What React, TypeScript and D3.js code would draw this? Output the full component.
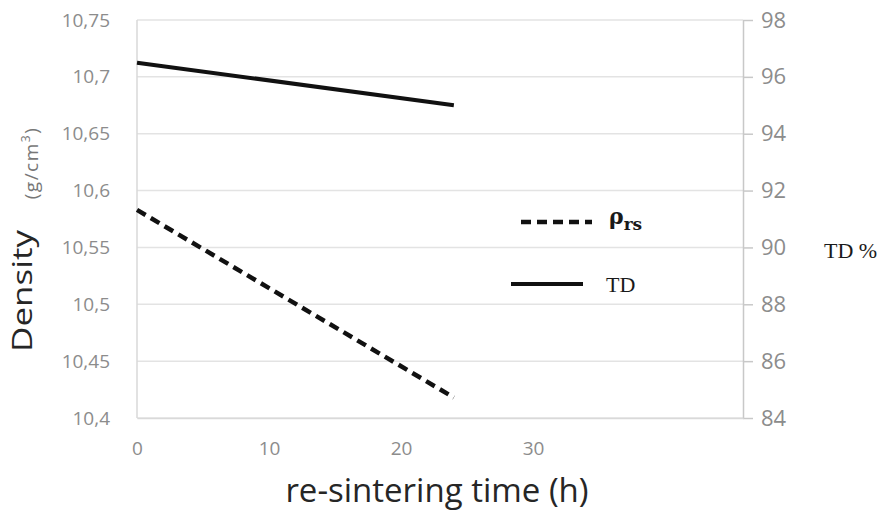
import React, { useEffect, useRef } from "react";
import * as d3 from "d3";

// re-sintering time (h)
const times = [0, 24];
// density rho_rs (g/cm3)
const density = [10.583, 10.418];
// theoretical density %
const tdPercent = [96.5, 95.0];

const leftTicks = [10.4, 10.45, 10.5, 10.55, 10.6, 10.65, 10.7, 10.75];
const rightTicks = [84, 86, 88, 90, 92, 94, 96, 98];
const xTicks = [0, 10, 20, 30];

const App = () => {
  const ref = useRef<SVGSVGElement>(null);

  useEffect(() => {
    const width = 882;
    const height = 511;
    const svg = d3.select(ref.current);
    svg.selectAll("*").remove();

    const left = 137, right = 743, top = 20, bottom = 418;

    const x = d3.scaleLinear().domain([0, 45.9]).range([left, right]);
    const yL = d3.scaleLinear().domain([10.4, 10.75]).range([bottom, top]);
    const yR = d3.scaleLinear().domain([84, 98]).range([bottom, top]);

    const fmt = (d: number) => String(d).replace(".", ",");

    // gridlines
    svg.append("g")
      .selectAll("line")
      .data(leftTicks)
      .enter()
      .append("line")
      .attr("x1", left)
      .attr("x2", right)
      .attr("y1", d => yL(d))
      .attr("y2", d => yL(d))
      .attr("stroke", "#e3e3e3")
      .attr("stroke-width", 1.5);

    // left frame line
    svg.append("line")
      .attr("x1", left).attr("x2", left)
      .attr("y1", top).attr("y2", bottom)
      .attr("stroke", "#d9d9d9").attr("stroke-width", 1.5);

    // left axis labels
    const gL = svg.append("g")
      .attr("transform", `translate(${left},0)`)
      .call(d3.axisLeft(yL).tickValues(leftTicks).tickFormat(d => fmt(d as number)).tickSize(0).tickPadding(27));
    gL.select(".domain").remove();
    gL.selectAll("text")
      .attr("font-family", "'Open Sans', sans-serif")
      .attr("font-size", 19)
      .attr("fill", "#8c8c8c");

    // right axis
    const gR = svg.append("g")
      .attr("transform", `translate(${right},0)`)
      .call(d3.axisRight(yR).tickValues(rightTicks).tickSize(10).tickSizeOuter(0).tickPadding(8));
    gR.select(".domain").attr("stroke", "#c8c8c8").attr("stroke-width", 1.5);
    gR.selectAll(".tick line").attr("stroke", "#c8c8c8").attr("stroke-width", 1.5);
    gR.selectAll("text")
      .attr("font-family", "'Open Sans', sans-serif")
      .attr("font-size", 22)
      .attr("fill", "#8c8c8c");

    // x axis
    const gX = svg.append("g")
      .attr("transform", `translate(0,${bottom})`)
      .call(d3.axisBottom(x).tickValues(xTicks).tickSize(0).tickPadding(24));
    gX.select(".domain").attr("stroke", "#d9d9d9").attr("stroke-width", 1.5);
    gX.selectAll("text")
      .attr("font-family", "'Open Sans', sans-serif")
      .attr("font-size", 19)
      .attr("fill", "#8c8c8c");

    // series
    const lineL = d3.line<number>().x((d, i) => x(times[i])).y(d => yL(d));
    const lineR = d3.line<number>().x((d, i) => x(times[i])).y(d => yR(d));

    svg.append("path")
      .attr("d", lineL(density))
      .attr("fill", "none")
      .attr("stroke", "#111")
      .attr("stroke-width", 4.5)
      .attr("stroke-dasharray", "10,6");

    svg.append("path")
      .attr("d", lineR(tdPercent))
      .attr("fill", "none")
      .attr("stroke", "#111")
      .attr("stroke-width", 4);

    // legend
    svg.append("line")
      .attr("x1", 521).attr("x2", 592).attr("y1", 222).attr("y2", 222)
      .attr("stroke", "#111").attr("stroke-width", 4.5).attr("stroke-dasharray", "10,6");
    const rho = svg.append("text")
      .attr("x", 609).attr("y", 224)
      .attr("font-family", "'DejaVu Serif', serif")
      .attr("font-weight", "bold")
      .attr("font-size", 22)
      .attr("fill", "#1a1a1a");
    rho.append("tspan").text("ρ");
    rho.append("tspan").attr("font-size", 17).attr("dy", 6).text("rs");

    svg.append("line")
      .attr("x1", 511).attr("x2", 583).attr("y1", 284).attr("y2", 284)
      .attr("stroke", "#111").attr("stroke-width", 4);
    svg.append("text")
      .attr("x", 606).attr("y", 292)
      .attr("font-family", "'Liberation Serif', serif")
      .attr("font-size", 22)
      .attr("fill", "#1a1a1a")
      .text("TD");

    // axis titles
    svg.append("text")
      .attr("transform", "translate(32,291) rotate(-90)")
      .attr("text-anchor", "middle")
      .attr("font-family", "'Open Sans', sans-serif")
      .attr("font-size", 27)
      .attr("textLength", 122)
      .attr("lengthAdjust", "spacingAndGlyphs")
      .attr("fill", "#262626")
      .text("Density");

    const unit = svg.append("text")
      .attr("transform", "translate(38,163) rotate(-90)")
      .attr("text-anchor", "middle")
      .attr("font-family", "'Open Sans', sans-serif")
      .attr("font-size", 19)
      .attr("letter-spacing", 1.5)
      .attr("fill", "#777");
    unit.append("tspan").text("(g/cm");
    unit.append("tspan").attr("font-size", 12).attr("dy", -8).text("3");
    unit.append("tspan").attr("dy", 8).text(")");

    svg.append("text")
      .attr("x", 824).attr("y", 258)
      .attr("font-family", "'Liberation Serif', serif")
      .attr("font-size", 22)
      .attr("fill", "#1a1a1a")
      .text("TD %");

    svg.append("text")
      .attr("x", 437).attr("y", 502)
      .attr("text-anchor", "middle")
      .attr("font-family", "'Open Sans', sans-serif")
      .attr("font-size", 33)
      .attr("fill", "#262626")
      .text("re-sintering time (h)");

    svg.attr("width", width).attr("height", height);
  }, []);

  return (
    <svg
      ref={ref}
      width={882}
      height={511}
      style={{ position: "absolute", left: 0, top: 0, background: "#fff" }}
    />
  );
};

export default App;
